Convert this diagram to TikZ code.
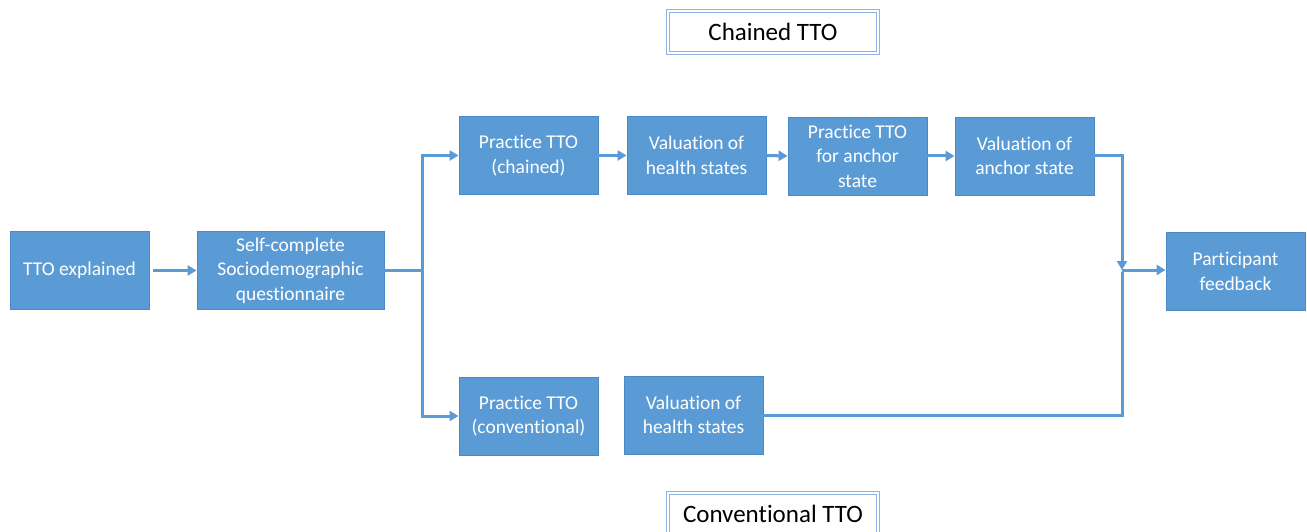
\documentclass[tikz,border=0pt]{standalone}
\usepackage{fontspec}
\setmainfont{Carlito}[Ligatures={NoCommon}]
\usetikzlibrary{arrows.meta}
\definecolor{boxblue}{HTML}{5B9BD5}
\definecolor{boxedge}{HTML}{4A89C8}
\definecolor{titleedge}{HTML}{8EB4E3}
\begin{document}
\begin{tikzpicture}[x=1pt,y=-1pt,
  stepbox/.style={draw=boxedge,line width=0.8pt,fill=boxblue,text=white,align=center,
    minimum width=139pt,minimum height=78pt,inner sep=2pt,
    font=\fontsize{19.5}{24.5}\selectfont},
  titlebox/.style={draw=titleedge,double=white,double distance=2pt,line width=1pt,
    minimum width=210pt,minimum height=42pt,font=\fontsize{25}{28}\selectfont,text=black},
  conn/.style={draw=boxblue,line width=3pt},
  arr/.style={conn,-{Triangle[length=9pt,width=10pt]}}]
\useasboundingbox (0,0) rectangle (1307,532);
\node[stepbox] (expl) at (79.5,270.5) {TTO explained};
\node[stepbox,minimum width=187pt] (self) at (290.5,270.5) {Self-complete\\Sociodemographic\\questionnaire};
\node[stepbox] (pc) at (528.5,155.5) {Practice TTO\\(chained)};
\node[stepbox] (vh1) at (696.5,155.5) {Valuation of\\health states};
\node[stepbox] (pa) at (857.5,156) {Practice TTO\\for anchor\\state};
\node[stepbox] (va) at (1024.5,156) {Valuation of\\anchor state};
\node[stepbox] (pf) at (1235.5,271.5) {Participant\\feedback};
\node[stepbox] (pconv) at (528.5,416) {Practice TTO\\(conventional)};
\node[stepbox] (vh2) at (693.5,415) {Valuation of\\health states};
\node[titlebox] (ct) at (773,32) {Chained TTO};
\node[titlebox] (cvt) at (773,514) {Conventional TTO};
\coordinate (split) at (422,270);
\coordinate (join) at (1122,270);
\draw[arr,shorten <=4pt] (expl.east) -- (self.west);
\draw[conn] (self.east |- split) -- (split);
\draw[arr] (split) |- (pc.west);
\draw[arr] (split) |- (pconv.west);
\draw[arr] (pc.east) -- (vh1.west);
\draw[arr] (vh1.east) -- (pa.west);
\draw[arr] (pa.east) -- (va.west);
\draw[arr] (va.east) -| (join);
\draw[conn] (vh2.east) -| ([yshift=-1.5pt]join);
\draw[arr] (join) -- (pf.west |- join);
\end{tikzpicture}
\end{document}
